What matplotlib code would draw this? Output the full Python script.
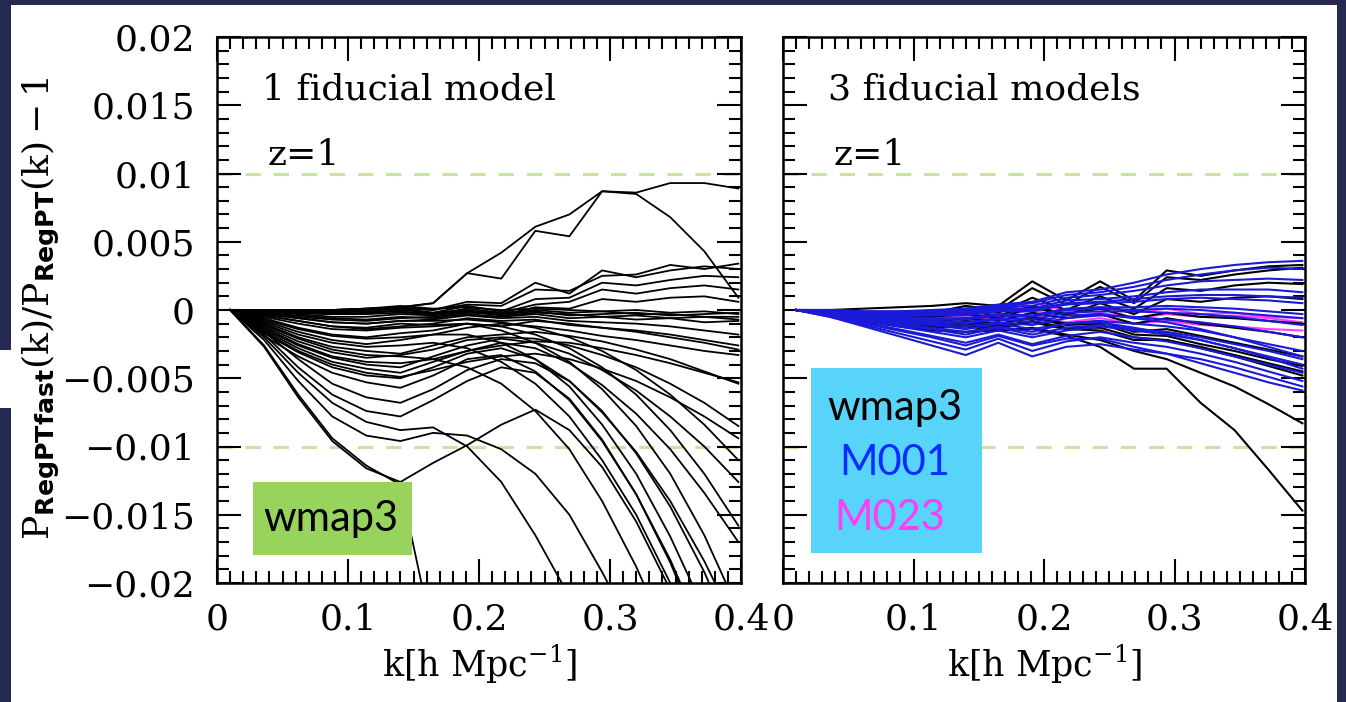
import matplotlib
matplotlib.use('Agg')
import matplotlib.pyplot as plt
from matplotlib.patches import Rectangle
from matplotlib.ticker import MultipleLocator, FixedLocator, FixedFormatter

# ---------------- data ----------------
k = [0.010, 0.036, 0.062, 0.088, 0.114, 0.140, 0.165, 0.191,
     0.217, 0.243, 0.269, 0.294, 0.320, 0.346, 0.372, 0.398]

# left panel (1 fiducial model), units of 1e-3
left_rising = [
    [0, 0, 0, 0, 0.1, 0.2, 0.5, 2.7, 2.3, 5.8, 5.4, 8.7, 8.6, 9.3, 9.3, 8.9],
    [0, 0, 0, 0, 0.1, 0.2, 0.5, 2.7, 4.2, 6.1, 7.0, 8.7, 8.5, 6.8, 4.3, 0.9],
    [0, 0, 0, -0.1, 0, 0.1, 0.0, 0.6, 0.5, 2.0, 1.2, 2.9, 2.4, 2.9, 3.2, 3.0],
    [0, 0, -0.1, -0.1, 0, 0.2, 0.0, 0.4, 0.3, 1.5, 1.4, 2.5, 2.6, 3.3, 3.0, 3.4],
    [0, -0.1, -0.1, -0.2, -0.1, 0.1, -0.2, 0.3, -0.1, 0.8, 0.9, 2.0, 1.8, 2.2, 2.5, 2.4],
    [0, -0.1, -0.2, -0.3, -0.2, -0.1, -0.3, 0.1, -0.2, 0.4, 0.6, 1.5, 1.2, 1.6, 1.8, 1.5],
    [0, -0.1, -0.2, -0.3, -0.2, 0.0, -0.2, 0.0, -0.4, 0.2, 0.1, 0.8, 0.6, 0.9, 1.0, 0.6],
]
left_flat = [
    [0, 0, 0, 0, 0.1, 0.3, 0.1, 0.2, 0.0, 0.1, 0.0, -0.1, 0.0, -0.2, -0.1, -0.3],
    [0, -0.1, -0.2, -0.3, -0.3, -0.2, -0.3, -0.1, -0.4, -0.2, -0.3, -0.5, -0.4, -0.6, -0.5, -0.7],
    [0, -0.2, -0.4, -0.6, -0.7, -0.5, -0.6, -0.3, -0.5, -0.3, -0.6, -0.5, -0.7, -0.6, -0.9, -0.8],
    [0, -0.3, -0.6, -0.9, -1.0, -0.8, -0.7, -0.4, -0.6, -0.5, -0.8, -0.9, -1.0, -1.2, -1.5, -1.8],
    [0, -0.2, -0.5, -0.7, -0.8, -0.6, -0.5, -0.2, -0.3, -0.1, -0.4, -0.3, -0.2, -0.4, -0.3, -0.2],
    [0, -0.4, -0.8, -1.2, -1.4, -1.2, -1.0, -0.6, -0.8, -0.7, -1.1, -1.3, -1.6, -2.0, -2.4, -2.9],
    [0, -0.1, -0.3, -0.5, -0.5, -0.3, -0.4, -0.1, -0.2, 0.0, -0.2, -0.1, -0.3, -0.3, -0.5, -0.5],
]
left_dip = [
    [0, -0.6, -1.3, -1.8, -2.0, -1.7, -1.5, -1.0, -1.2, -0.8, -1.0, -1.3, -1.5, -1.8, -2.2, -2.6],
    [0, -0.8, -1.6, -2.2, -2.5, -2.2, -1.8, -1.3, -1.0, -1.2, -1.5, -1.9, -2.2, -2.6, -3.0, -3.3],
    [0, -1.0, -2.0, -2.7, -3.0, -3.2, -2.6, -2.0, -1.8, -1.6, -1.9, -2.3, -2.9, -3.6, -4.5, -5.4],
    [0, -1.2, -2.3, -3.1, -3.5, -3.3, -2.9, -2.2, -2.0, -2.1, -2.6, -3.3, -4.2, -5.4, -6.8, -8.5],
    [0, -1.4, -2.6, -3.5, -4.0, -4.2, -3.4, -2.6, -2.1, -2.4, -3.2, -4.4, -5.9, -7.8, -10.0, -12.6],
    [0, -1.5, -2.8, -3.8, -4.3, -4.6, -3.8, -3.0, -2.4, -2.8, -3.9, -5.5, -7.6, -10.2, -13.4, -17.0],
    [0, -1.7, -3.1, -4.2, -4.8, -5.0, -4.2, -3.2, -2.8, -3.6, -5.2, -7.5, -10.4, -14.0, -18.4, -23.5],
    [0, -1.9, -3.4, -4.6, -5.3, -5.7, -4.8, -3.6, -3.3, -4.5, -6.6, -9.6, -13.5, -18.3, -24.0, -30.0],
    [0, -1.3, -2.5, -3.4, -3.8, -3.9, -3.6, -3.0, -2.6, -2.3, -2.4, -2.8, -3.3, -3.9, -4.6, -5.3],
    [0, -1.6, -3.0, -4.0, -4.6, -4.9, -4.4, -3.8, -3.4, -3.2, -3.6, -4.3, -5.2, -6.4, -7.8, -9.4],
]
left_plunge = [
    [0, -0.5, -1.0, -1.4, -1.5, -1.3, -1.2, -1.0, -1.2, -1.8, -2.8, -4.2, -6.2, -8.8, -12.0, -15.8],
    [0, -0.4, -0.8, -1.2, -1.3, -1.0, -1.1, -1.0, -1.5, -2.4, -3.8, -5.8, -8.5, -12.0, -16.5, -22.0],
    [0, -0.7, -1.4, -1.9, -2.1, -2.0, -1.8, -1.8, -2.4, -3.6, -5.6, -8.4, -12.0, -16.6, -22.0, -28.0],
    [0, -0.9, -1.8, -2.4, -2.7, -2.6, -2.4, -2.8, -3.8, -5.4, -7.8, -11.0, -15.0, -20.0, -26.0, -32.0],
    [0, -1.1, -2.1, -2.9, -3.3, -3.4, -3.6, -4.2, -5.4, -7.4, -10.2, -14.0, -18.8, -24.5, -31.0, -38.0],
    [0, -0.3, -0.6, -0.9, -1.0, -0.8, -0.8, -0.7, -0.9, -1.3, -2.0, -3.0, -4.4, -6.2, -8.4, -11.0],
]
left_deep = [
    [0, -1.6, -3.6, -5.4, -6.4, -6.8, -5.8, -4.4, -3.6, -3.9, -5.2, -7.4, -10.5, -14.4, -19.2, -25.0],
    [0, -1.8, -4.2, -6.2, -7.4, -7.8, -6.6, -5.2, -4.2, -4.6, -6.5, -9.5, -13.5, -18.5, -24.5, -31.0],
    [0, -2.0, -4.6, -6.8, -8.2, -8.8, -8.6, -10.0, -12.6, -16.5, -21.0, -26.0, -31.0, -36.0, -41.0, -46.0],
    [0, -2.2, -5.2, -7.8, -9.2, -9.6, -9.0, -9.2, -10.2, -12.0, -15.0, -19.2, -24.0, -30.0, -36.0, -42.0],
    [0, -2.7, -6.4, -9.6, -11.6, -12.6, -11.2, -9.9, -8.4, -7.3, -8.8, -11.5, -15.5, -20.5, -26.0, -32.0],
    [0, -2.6, -6.2, -9.4, -11.4, -12.8, -24.0, -36.0, -48.0, -60.0, -72.0, -84.0, -96.0, -108.0, -120.0, -132.0],
]

# right panel (3 fiducial models), units of 1e-3
right_magenta = [
    [0, -0.1, -0.2, -0.3, -0.3, -0.1, -0.2, 0.6, -0.1, 0.2, -0.2, 0.1, -0.3, -0.2, -0.5, -0.6],
    [0, -0.1, -0.3, -0.4, -0.5, -0.4, -0.5, 0.0, -0.6, -0.2, -0.6, -0.3, -0.5, -0.4, -0.6, -0.9],
    [0, -0.2, -0.4, -0.6, -0.7, -0.6, -0.7, -0.4, -0.9, -0.6, -1.0, -0.8, -1.1, -1.2, -1.4, -1.5],
]
right_black = [
    [0, 0, 0.1, 0.2, 0.3, 0.5, 0.3, 2.1, 0.7, 2.1, 0.7, 2.9, 2.5, 2.9, 3.2, 3.3],
    [0, -0.1, -0.2, -0.3, -0.2, 0.3, 0.0, 1.6, 0.4, 1.7, 0.5, 2.4, 2.2, 2.6, 2.9, 3.1],
    [0, -0.2, -0.4, -0.6, -0.5, -0.3, -0.6, 0.2, -0.4, 0.5, -0.3, 0.8, 0.6, 0.9, 1.0, 0.8],
    [0, -0.2, -0.4, -0.5, -0.4, -0.1, -0.4, 0.3, -0.3, 0.1, -0.6, -0.2, -0.5, -0.6, -0.8, -1.0],
    [0, -0.2, -0.5, -0.8, -0.9, -0.6, -0.8, -0.2, -0.6, -0.3, -1.0, -0.6, -1.0, -1.3, -1.6, -2.0],
    [0, -0.3, -0.6, -0.9, -1.1, -0.9, -1.1, -0.5, -1.0, -0.8, -1.6, -1.4, -1.9, -2.4, -2.9, -3.4],
    [0, -0.3, -0.7, -1.0, -1.3, -1.2, -1.3, -0.9, -1.4, -1.5, -2.2, -2.2, -2.8, -3.4, -4.1, -4.8],
    [0, -0.4, -0.8, -1.1, -1.3, -1.2, -1.5, -1.3, -1.8, -2.2, -3.0, -3.6, -4.6, -5.6, -6.9, -8.3],
    [0, -0.4, -0.8, -1.2, -1.5, -1.6, -1.5, -1.4, -1.9, -2.7, -4.3, -4.3, -6.8, -8.8, -11.7, -14.7],
    [0, -0.3, -0.6, -0.8, -1.0, -0.8, -1.0, -0.6, -1.1, -1.0, -1.8, -1.9, -2.5, -3.0, -3.6, -4.1],
    [0, -0.3, -0.6, -0.9, -1.2, -1.0, -1.2, -0.8, -1.3, -1.3, -2.0, -2.2, -2.7, -3.3, -3.9, -4.5],
    [0, -0.1, -0.2, -0.3, -0.2, 0.1, -0.2, 0.9, 0.0, 1.0, 0.1, 1.6, 1.4, 1.8, 2.0, 1.9],
]
right_blue = [
    [0, -0.5, -1.2, -1.9, -2.6, -3.3, -2.4, -3.4, -2.7, -2.5, -2.9, -3.2, -3.6, -4.2, -4.9, -5.6],
    [0, -0.5, -1.1, -1.7, -2.3, -2.9, -2.1, -3.0, -2.3, -2.0, -2.4, -2.7, -3.2, -3.8, -4.5, -5.2],
    [0, -0.4, -0.9, -1.4, -1.9, -2.4, -1.8, -2.5, -1.9, -1.6, -2.0, -2.3, -2.8, -3.4, -4.0, -4.6],
    [0, -0.4, -0.8, -1.2, -1.6, -2.0, -1.5, -2.0, -1.5, -1.2, -1.5, -1.8, -2.2, -2.8, -3.4, -4.0],
    [0, -0.3, -0.7, -1.0, -1.3, -1.6, -1.2, -1.6, -1.0, -0.8, -1.0, -1.2, -1.5, -2.0, -2.5, -3.0],
    [0, -0.3, -0.6, -0.8, -1.0, -1.2, -0.9, -1.1, -0.6, -0.4, -0.5, -0.7, -0.9, -1.2, -1.6, -2.0],
    [0, -0.2, -0.5, -0.7, -0.8, -0.9, -0.6, -0.7, -0.2, -0.1, -0.1, -0.2, -0.3, -0.5, -0.8, -1.1],
    [0, -0.2, -0.4, -0.5, -0.6, -0.6, -0.3, -0.4, 0.1, 0.2, 0.2, 0.3, 0.2, 0.1, -0.1, -0.3],
    [0, -0.1, -0.3, -0.4, -0.4, -0.4, -0.1, -0.1, 0.4, 0.5, 0.6, 0.8, 0.9, 0.8, 0.7, 0.5],
    [0, -0.1, -0.2, -0.3, -0.3, -0.2, 0.1, 0.1, 0.7, 0.8, 1.0, 1.3, 1.5, 1.5, 1.5, 1.3],
    [0, -0.1, -0.2, -0.2, -0.2, -0.1, 0.2, 0.3, 0.9, 1.1, 1.4, 1.8, 2.1, 2.2, 2.3, 2.2],
    [0, 0, -0.1, -0.1, -0.1, 0.0, 0.3, 0.5, 1.1, 1.3, 1.7, 2.2, 2.6, 2.9, 3.1, 3.0],
    [0, 0, -0.1, -0.1, 0.0, 0.1, 0.4, 0.6, 1.3, 1.5, 2.0, 2.6, 3.0, 3.3, 3.5, 3.6],
    [0, -0.3, -0.6, -0.9, -1.1, -1.4, -1.0, -1.4, -1.0, -0.9, -1.3, -1.7, -2.2, -2.8, -3.5, -4.3],
    [0, -0.2, -0.5, -0.7, -0.9, -1.0, -0.7, -0.9, -0.4, -0.3, -0.6, -0.9, -1.4, -2.0, -2.7, -3.4],
    [0, -0.4, -1.0, -1.5, -2.0, -2.6, -1.9, -2.6, -2.1, -2.1, -2.7, -3.2, -3.9, -4.6, -5.3, -5.9],
    [0, -0.2, -0.4, -0.6, -0.7, -0.7, -0.4, -0.5, 0.0, 0.1, 0.0, 0.1, 0.0, -0.2, -0.4, -0.6],
    [0, -0.1, -0.2, -0.3, -0.3, -0.3, 0.0, 0.0, 0.5, 0.6, 0.8, 1.0, 1.1, 1.1, 1.0, 0.9],
    [0, -0.3, -0.7, -1.1, -1.4, -1.8, -1.3, -1.8, -1.3, -1.1, -1.4, -1.6, -2.0, -2.5, -3.0, -3.6],
]

xtick_vals = [0, 0.1, 0.2, 0.3, 0.4]
xtick_labels = ['0', '0.1', '0.2', '0.3', '0.4']
ytick_vals = [-0.02, -0.015, -0.01, -0.005, 0, 0.005, 0.01, 0.015, 0.02]
ytick_labels = ['\u22120.02', '\u22120.015', '\u22120.01', '\u22120.005', '0',
                '0.005', '0.01', '0.015', '0.02']
tol_levels = [0.01, -0.01]

# ---------------- figure ----------------
plt.rcParams['font.family'] = ['DejaVu Serif']
plt.rcParams['mathtext.fontset'] = 'custom'
plt.rcParams['mathtext.rm'] = 'DejaVu Serif'
plt.rcParams['mathtext.it'] = 'DejaVu Serif:italic'
plt.rcParams['mathtext.bf'] = 'DejaVu Sans:bold'

W, H = 1346, 702
fig = plt.figure(figsize=(W / 100, H / 100), dpi=100)
fig.patch.set_facecolor('#262a52')


def fx(px):
    return px / W


def fy(py):
    return 1 - py / H


fig.add_artist(Rectangle((fx(11), 0), fx(1337) - fx(11), fy(5), transform=fig.transFigure,
                         facecolor='white', edgecolor='none', zorder=-10))
fig.add_artist(Rectangle((0, fy(408)), fx(11), (408 - 350) / H, transform=fig.transFigure,
                         facecolor='white', edgecolor='none', zorder=-10))

axL = fig.add_axes([fx(217), fy(583), fx(741) - fx(217), (583 - 37) / H])
axR = fig.add_axes([fx(783), fy(583), fx(1305) - fx(783), (583 - 37) / H])

for ax in (axL, axR):
    ax.set_xlim(0, 0.4)
    ax.set_ylim(-0.02, 0.02)
    ax.xaxis.set_major_locator(FixedLocator(xtick_vals))
    ax.xaxis.set_major_formatter(FixedFormatter(xtick_labels))
    ax.xaxis.set_minor_locator(MultipleLocator(0.01))
    ax.yaxis.set_major_locator(FixedLocator(ytick_vals))
    ax.yaxis.set_major_formatter(FixedFormatter(ytick_labels))
    ax.yaxis.set_minor_locator(MultipleLocator(0.001))
    ax.tick_params(which='both', direction='in', top=True, right=True, width=1.5,
                   color='black')
    ax.tick_params(which='major', length=17, labelsize=26, pad=14)
    ax.tick_params(which='minor', length=8.5)
    ax.tick_params(axis='y', which='major', pad=16)
    for s in ax.spines.values():
        s.set_linewidth(1.8)
    for lv in tol_levels:
        ax.axhline(lv, color='#c6e4a4', lw=2.2, dashes=(5.0, 4.2), zorder=1)

axR.tick_params(labelleft=False)

lw = 1.3
for group in (left_flat, left_rising, left_dip, left_plunge, left_deep):
    for ys in group:
        axL.plot(k, [v * 1e-3 for v in ys], color='black', lw=lw, zorder=3)

lwr = 1.5
for ys in right_magenta:
    axR.plot(k, [v * 1e-3 for v in ys], color='#ff3cff', lw=lwr, zorder=2)
for ys in right_black:
    axR.plot(k, [v * 1e-3 for v in ys], color='black', lw=lwr, zorder=3)
for ys in right_blue:
    axR.plot(k, [v * 1e-3 for v in ys], color='#1a1ad8', lw=lwr, zorder=4)

# in-panel annotations
fig.text(fx(262), fy(90), '1 fiducial model', fontsize=26, ha='left', va='center')
fig.text(fx(268), fy(155), 'z=1', fontsize=26, ha='left', va='center')
fig.text(fx(828), fy(90), '3 fiducial models', fontsize=26, ha='left', va='center')
fig.text(fx(834), fy(155), 'z=1', fontsize=26, ha='left', va='center')

# axis labels
for cx in ((217 + 741) / 2, (783 + 1305) / 2):
    fig.text(fx(cx), fy(664), r'k[h Mpc$^{-1}$]', fontsize=25, ha='center', va='center')
fig.text(fx(41), fy(308),
         r'$\mathrm{P}_{\mathbf{RegPTfast}}(\mathrm{k})/\mathrm{P}_{\mathbf{RegPT}}(\mathrm{k})-1$',
         fontsize=26, rotation=90, ha='center', va='center')

# slide label boxes
fig.add_artist(Rectangle((fx(253), fy(555)), fx(412) - fx(253), (555 - 482) / H,
                         transform=fig.transFigure, facecolor='#97d35d', edgecolor='none',
                         zorder=5))
fig.text(fx(331), fy(519), 'wmap3', fontsize=30, family='Lato', color='black',
         ha='center', va='center', zorder=6)
fig.add_artist(Rectangle((fx(811), fy(553)), fx(982) - fx(811), (553 - 368) / H,
                         transform=fig.transFigure, facecolor='#58d4fb', edgecolor='none',
                         zorder=5))
fig.text(fx(895), fy(408), 'wmap3', fontsize=30, family='Lato', color='black',
         ha='center', va='center', zorder=6)
fig.text(fx(895), fy(463), 'M001', fontsize=30, family='Lato', color='#0a2cff',
         ha='center', va='center', zorder=6)
fig.text(fx(890), fy(518), 'M023', fontsize=30, family='Lato', color='#ff3df5',
         ha='center', va='center', zorder=6)

fig.savefig('out.png', dpi=100, facecolor=fig.get_facecolor())
